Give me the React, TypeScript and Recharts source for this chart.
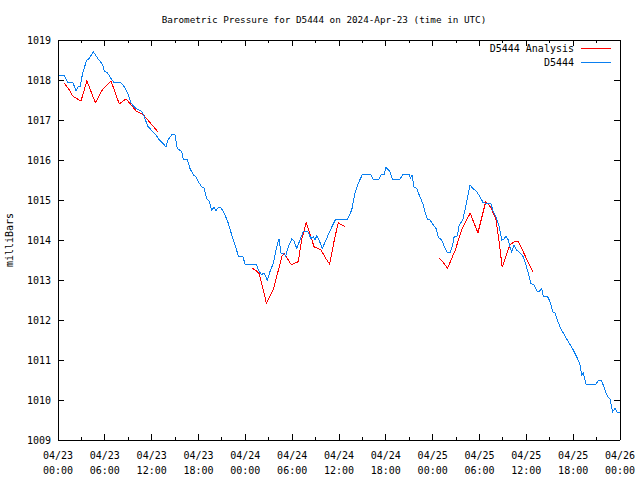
import { LineChart, Line, XAxis, YAxis } from 'recharts'

// hours since 04/23 00:00 UTC, pressure in millibars
const stationHours = [
  0, 0.77, 1.28, 1.92, 2.31, 2.56, 2.82, 3.16, 3.68, 3.97, 4.52, 5.09, 5.73, 5.93, 6.37, 6.79, 7.21, 8.07,
  8.49, 8.93, 9.35, 9.99, 10.76, 11.06, 11.49, 12.13, 12.55, 12.98, 13.41, 13.84, 14.09, 14.57, 14.99, 15.28,
  15.85, 16.05, 16.56, 16.91, 17.33, 17.68, 18.1, 18.41, 18.7, 19.05, 19.38, 19.69, 19.98, 20.24, 20.54,
  20.84, 21.39, 21.82, 22.25, 22.68, 23.1, 23.66, 23.96, 25.37, 25.79, 26.1, 26.39, 26.81, 27.16, 27.58,
  28.02, 28.31, 28.57, 28.86, 29.17, 29.5, 29.94, 30.23, 30.58, 31.0, 31.42, 31.99, 32.41, 32.71, 32.92,
  33.14, 33.44, 33.86, 34.42, 35.06, 35.58, 37.11, 37.63, 38.05, 38.47, 38.98, 40.1, 40.39, 41.12, 41.38,
  41.76, 42.02, 42.53, 42.83, 43.81, 44.16, 45.0, 45.18, 45.35, 45.61, 45.95, 46.37, 46.72, 47.02, 47.31,
  47.66, 48.08, 48.43, 48.72, 49.16, 49.58, 49.92, 50.22, 50.56, 50.73, 51.15, 51.41, 51.85, 52.14, 52.49,
  52.78, 53.13, 53.64, 54.06, 54.48, 54.92, 55.43, 55.77, 56.11, 56.53, 56.84, 57.13, 57.39, 57.68, 57.9,
  58.12, 58.42, 58.76, 59.19, 59.61, 59.95, 60.25, 60.56, 60.98, 61.4, 61.66, 61.97, 62.17, 62.68, 63.03,
  63.38, 63.67, 63.89, 64.31, 64.74, 65.38, 66.01, 66.45, 66.88, 67.09, 67.3, 67.64, 68.92, 69.22, 69.65,
  70.08, 70.37, 70.72, 71.06, 71.36, 71.66, 72,
]
const stationPressure = [
  1018.12, 1018.12, 1017.93, 1017.93, 1017.73, 1017.83, 1017.83, 1018.17, 1018.5, 1018.53, 1018.71, 1018.54,
  1018.38, 1018.23, 1018.17, 1018.04, 1017.93, 1017.93, 1017.83, 1017.67, 1017.42, 1017.29, 1017.21, 1017.08,
  1016.85, 1016.71, 1016.63, 1016.5, 1016.42, 1016.33, 1016.5, 1016.63, 1016.63, 1016.29, 1016.21, 1016.02,
  1016.02, 1015.79, 1015.63, 1015.58, 1015.42, 1015.33, 1015.3, 1015.04, 1014.96, 1014.75, 1014.82, 1014.73,
  1014.82, 1014.82, 1014.63, 1014.42, 1014.13, 1013.88, 1013.6, 1013.6, 1013.4, 1013.4, 1013.21, 1013.13,
  1013.18, 1013.0, 1013.21, 1013.42, 1013.83, 1014.02, 1013.67, 1013.67, 1013.6, 1013.83, 1014.02, 1013.98,
  1013.79, 1014.0, 1014.21, 1014.21, 1014.04, 1014.08, 1014.0, 1014.1, 1014.0, 1013.79, 1014.04, 1014.32,
  1014.52, 1014.52, 1014.75, 1015.17, 1015.42, 1015.63, 1015.63, 1015.52, 1015.52, 1015.63, 1015.63, 1015.82,
  1015.71, 1015.52, 1015.52, 1015.63, 1015.63, 1015.54, 1015.63, 1015.33, 1015.29, 1015.08, 1014.92, 1014.71,
  1014.52, 1014.5, 1014.38, 1014.29, 1014.07, 1014.0, 1013.79, 1013.68, 1013.68, 1013.88, 1014.07, 1014.1,
  1014.38, 1014.5, 1014.75, 1015.08, 1015.38, 1015.29, 1015.21, 1015.08, 1014.93, 1014.92, 1014.92, 1014.71,
  1014.58, 1014.33, 1014.0, 1014.02, 1014.1, 1014.0, 1013.82, 1013.71, 1013.88, 1013.75, 1013.68, 1013.58,
  1013.38, 1013.17, 1012.92, 1012.88, 1012.71, 1012.71, 1012.79, 1012.6, 1012.6, 1012.46, 1012.21, 1012.17,
  1012.04, 1011.83, 1011.67, 1011.46, 1011.25, 1011.08, 1010.88, 1010.63, 1010.68, 1010.4, 1010.4, 1010.48,
  1010.48, 1010.25, 1010.1, 1010.02, 1009.71, 1009.79, 1009.68, 1009.68,
]

// analysis runs, null = gap between runs
const analysisHours = [
  0.8, 1.45, 1.88, 2.72, 2.95, 3.7, 4.78, 5.73, 6.79, 7.85, 8.71, 9.99, 10.93, 12.77,
  18,
  24.8, 25.4, 25.8, 26.7, 27.6, 28.7, 29.0, 29.9, 30.8, 31.2, 31.8, 32.2, 32.8, 33.7, 34.3, 34.8, 35.4, 35.9, 36.8,
  42,
  48.85, 49.4, 49.9, 50.9, 51.7, 52.8, 53.8, 54.8, 55.4, 56.1, 56.6, 56.9, 57.9, 58.5, 59.0, 59.4, 60.0, 60.9,
]
const analysisPressure = [
  1017.92, 1017.75, 1017.6, 1017.5, 1017.48, 1017.98, 1017.43, 1017.77, 1017.98, 1017.4, 1017.53, 1017.23,
  1017.13, 1016.71,
  null,
  1013.31, 1013.23, 1013.15, 1012.42, 1012.77, 1013.6, 1013.65, 1013.38, 1013.46, 1014.0, 1014.43, 1014.21,
  1013.83, 1013.75, 1013.54, 1013.4, 1014.0, 1014.43, 1014.33,
  null,
  1013.54, 1013.43, 1013.29, 1013.75, 1014.25, 1014.67, 1014.18, 1014.96, 1014.83, 1014.52, 1013.83, 1013.32,
  1013.88, 1013.96, 1013.96, 1013.79, 1013.54, 1013.19,
]

// every 3 hours; labels on the 6-hourly ones
const timeTicks = [0, 3, 6, 9, 12, 15, 18, 21, 24, 27, 30, 33, 36, 39, 42, 45, 48, 51, 54, 57, 60, 63, 66, 69, 72]
const dateLabels = ['04/23', '04/23', '04/23', '04/23', '04/24', '04/24', '04/24', '04/24', '04/25', '04/25', '04/25', '04/25', '04/26']
const timeLabels = ['00:00', '06:00', '12:00', '18:00', '00:00', '06:00', '12:00', '18:00', '00:00', '06:00', '12:00', '18:00', '00:00']
const pressureTicks = [1009, 1010, 1011, 1012, 1013, 1014, 1015, 1016, 1017, 1018, 1019]

const stationData = stationHours.map((t, i) => ({ t, p: stationPressure[i] }))
const analysisData = analysisHours.map((t, i) => ({ t, p: analysisPressure[i] }))

const FONT = '"DejaVu Sans Mono", "Liberation Mono", monospace'
const RED = '#ff0000'
const BLUE = '#0a7ff0'

function BottomTick(props: any) {
  const { x, y, payload } = props
  const major = payload.value % 6 === 0
  const i = Math.round(payload.value / 6)
  return (
    <g>
      <line x1={x} x2={x} y1={y} y2={y - (major ? 6 : 3)} stroke="#000" shapeRendering="crispEdges" />
      {major && (
        <text x={x} y={y} textAnchor="middle" fontFamily={FONT} fontSize={10} fill="#000">
          <tspan x={x} dy={19}>{dateLabels[i]}</tspan>
          <tspan x={x} dy={15}>{timeLabels[i]}</tspan>
        </text>
      )}
    </g>
  )
}

function TopTick(props: any) {
  const { x, y, payload } = props
  const major = payload.value % 6 === 0
  return <line x1={x} x2={x} y1={y} y2={y + (major ? 6 : 3)} stroke="#000" shapeRendering="crispEdges" />
}

function LeftTick(props: any) {
  const { x, y, payload } = props
  return (
    <g>
      <line x1={x} x2={x + 6} y1={y} y2={y} stroke="#000" shapeRendering="crispEdges" />
      <text x={x - 7} y={y} dy={4} textAnchor="end" fontFamily={FONT} fontSize={10} fill="#000">
        {payload.value}
      </text>
    </g>
  )
}

function RightTick(props: any) {
  const { x, y } = props
  return <line x1={x} x2={x - 6} y1={y} y2={y} stroke="#000" shapeRendering="crispEdges" />
}

const frame = { stroke: '#000', shapeRendering: 'crispEdges' }

export default function App() {
  return (
    <div style={{ position: 'relative', width: 640, height: 480, background: '#fff' }}>
      <style>{'body{margin:0}'}</style>
      <LineChart width={640} height={480} margin={{ top: 40, right: 20, bottom: 0, left: 0 }}>
        <XAxis
          xAxisId="main"
          dataKey="t"
          type="number"
          domain={[0, 72]}
          allowDataOverflow
          ticks={timeTicks}
          height={40}
          tickLine={false}
          tickSize={0}
          tickMargin={0}
          axisLine={frame}
          tick={<BottomTick />}
          interval={0}
        />
        <XAxis
          xAxisId="top"
          orientation="top"
          mirror
          dataKey="t"
          type="number"
          domain={[0, 72]}
          allowDataOverflow
          ticks={timeTicks}
          height={0.01}
          tickLine={false}
          tickSize={0}
          tickMargin={0}
          axisLine={frame}
          tick={<TopTick />}
          interval={0}
        />
        <YAxis
          yAxisId="main"
          type="number"
          domain={[1009, 1019]}
          allowDataOverflow
          ticks={pressureTicks}
          width={58}
          tickLine={false}
          tickSize={0}
          tickMargin={0}
          axisLine={frame}
          tick={<LeftTick />}
          interval={0}
        />
        <YAxis
          yAxisId="right"
          orientation="right"
          mirror
          type="number"
          domain={[1009, 1019]}
          allowDataOverflow
          ticks={pressureTicks}
          width={0.01}
          tickLine={false}
          tickSize={0}
          tickMargin={0}
          axisLine={frame}
          tick={<RightTick />}
          interval={0}
        />
        <Line
          xAxisId="main"
          yAxisId="main"
          data={analysisData}
          dataKey="p"
          type="linear"
          stroke={RED}
          strokeWidth={1}
          shapeRendering="crispEdges"
          dot={false}
          activeDot={false}
          isAnimationActive={false}
        />
        <Line
          xAxisId="main"
          yAxisId="main"
          data={stationData}
          dataKey="p"
          type="linear"
          stroke={BLUE}
          strokeWidth={1}
          shapeRendering="crispEdges"
          dot={false}
          activeDot={false}
          isAnimationActive={false}
        />
      </LineChart>
      <svg width={640} height={480} style={{ position: 'absolute', left: 0, top: 0, pointerEvents: 'none' }}>
        <g fontFamily={FONT} fontSize={10} fill="#000">
          <text x={324} y={23} textAnchor="middle" fontSize={9.3}>
            Barometric Pressure for D5444 on 2024-Apr-23 (time in UTC)
          </text>
          <text x={13} y={240} textAnchor="middle" transform="rotate(-90 13 240)">milliBars</text>
          <text x={574} y={52} textAnchor="end">D5444 Analysis</text>
          <text x={574} y={66} textAnchor="end">D5444</text>
        </g>
        <line x1={581} y1={48} x2={611} y2={48} stroke={RED} strokeWidth={1} shapeRendering="crispEdges" />
        <line x1={581} y1={62} x2={611} y2={62} stroke={BLUE} strokeWidth={1} shapeRendering="crispEdges" />
      </svg>
    </div>
  )
}
